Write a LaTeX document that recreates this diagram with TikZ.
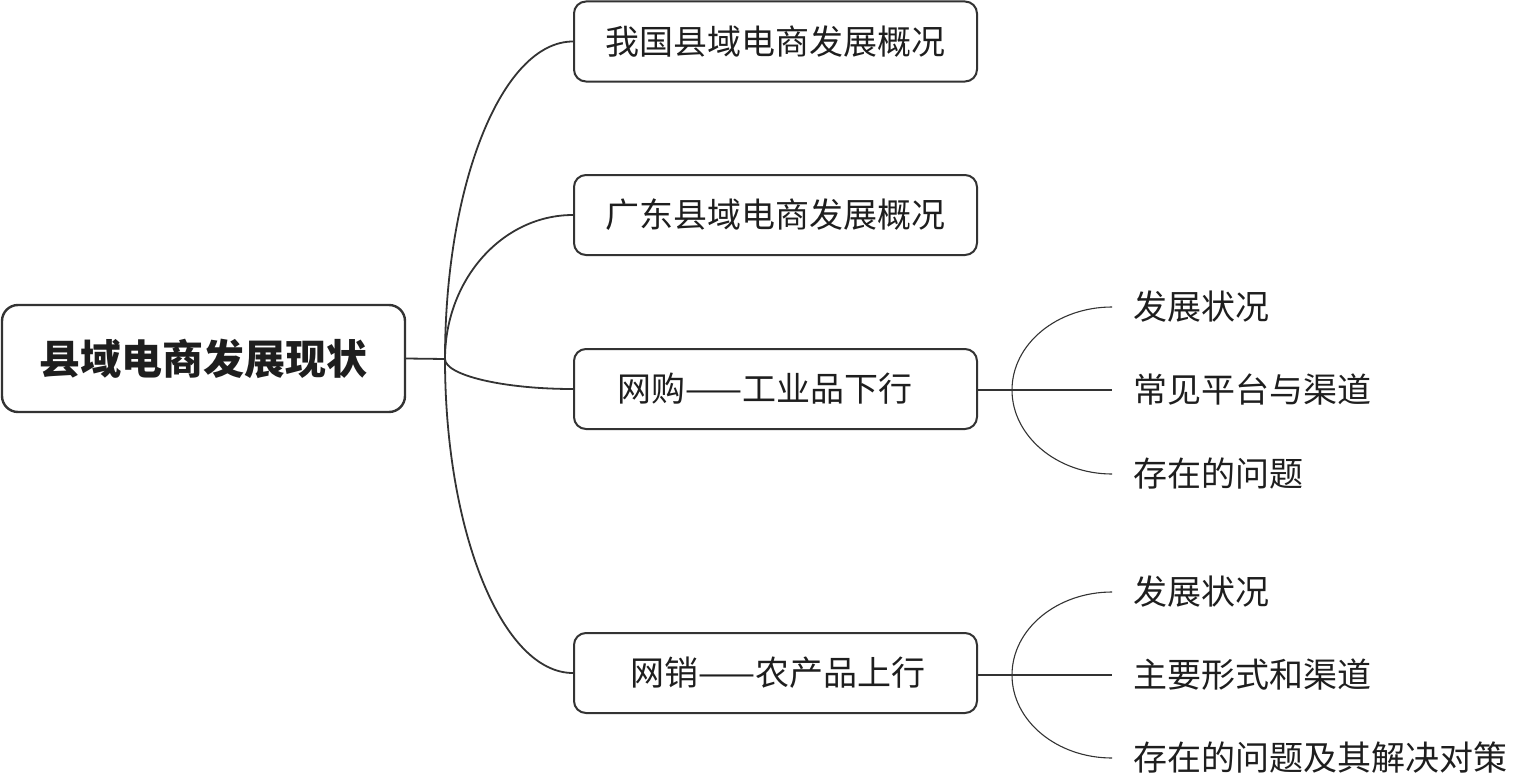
\documentclass[tikz,border=0pt]{standalone}
\usepackage{fontspec}
\setmainfont{Noto Sans CJK SC}
\usetikzlibrary{calc}
\definecolor{linec}{HTML}{333333}
\definecolor{textc}{HTML}{1E1E1E}
\begin{document}
\begin{tikzpicture}[x=1pt,y=-1pt,
  box/.style={draw=linec, line width=2pt, rounded corners=12pt, minimum width=403pt, minimum height=80pt, inner sep=0pt, font=\fontsize{34}{40}\selectfont, text=textc},
  rootbox/.style={box, minimum height=107pt, rounded corners=16pt, line width=2.4pt, font=\fontsize{41}{48}\selectfont\bfseries},
  leaf/.style={anchor=west, inner xsep=21pt, inner ysep=0pt, font=\fontsize{34}{40}\selectfont, text=textc},
  branch/.style={draw=linec, line width=1.8pt},
  twig/.style={draw=linec, line width=1.1pt}]
\useasboundingbox (0,0) rectangle (1536,776);
\node[rootbox] (root) at (203.5,358.5) {县域电商发展现状};
\node[box] (b1) at (775.5,41.5) {我国县域电商发展概况};
\node[box] (b2) at (775.5,215) {广东县域电商发展概况};
\node[box] (b3) at (775.5,389) {网购——工业品下行\kern22pt};
\node[box] (b4) at (775.5,673) {\kern4pt网销——农产品上行};
\coordinate (j0) at (445,359);
\coordinate (j1) at (1012,390);
\coordinate (j2) at (1012,675);
\node[leaf] (l1) at (1112,307) {发展状况};
\node[leaf] (l2) at (1112,390) {常见平台与渠道};
\node[leaf] (l3) at (1112,474) {存在的问题};
\node[leaf] (m1) at (1112,592) {发展状况};
\node[leaf] (m2) at (1112,675) {主要形式和渠道};
\node[leaf] (m3) at (1112,758) {存在的问题及其解决对策};
% main branches
\draw[branch] (root.east) -- (j0);
\draw[branch] (j0) .. controls ($(j0)+(0,-175)$) and ($(b1.west)+(-71,0)$) .. (b1.west);
\draw[branch] (j0) .. controls ($(j0)+(0,-79)$) and ($(b2.west)+(-71,0)$) .. (b2.west);
\draw[branch] (j0) .. controls ($(j0)+(0,16)$) and ($(b3.west)+(-71,0)$) .. (b3.west);
\draw[branch] (j0) .. controls ($(j0)+(0,172)$) and ($(b4.west)+(-71,0)$) .. (b4.west);
% subtree 1
\draw[twig] (b3.east |- j1) -- (j1);
\draw[twig] (j1) .. controls ($(j1)+(0,-46)$) and ($(l1.west)+(-55,0)$) .. (l1.west);
\draw[twig] (j1) -- (l2.west);
\draw[twig] (j1) .. controls ($(j1)+(0,46)$) and ($(l3.west)+(-55,0)$) .. (l3.west);
% subtree 2
\draw[twig] (b4.east |- j2) -- (j2);
\draw[twig] (j2) .. controls ($(j2)+(0,-46)$) and ($(m1.west)+(-55,0)$) .. (m1.west);
\draw[twig] (j2) -- (m2.west);
\draw[twig] (j2) .. controls ($(j2)+(0,46)$) and ($(m3.west)+(-55,0)$) .. (m3.west);
\end{tikzpicture}
\end{document}
